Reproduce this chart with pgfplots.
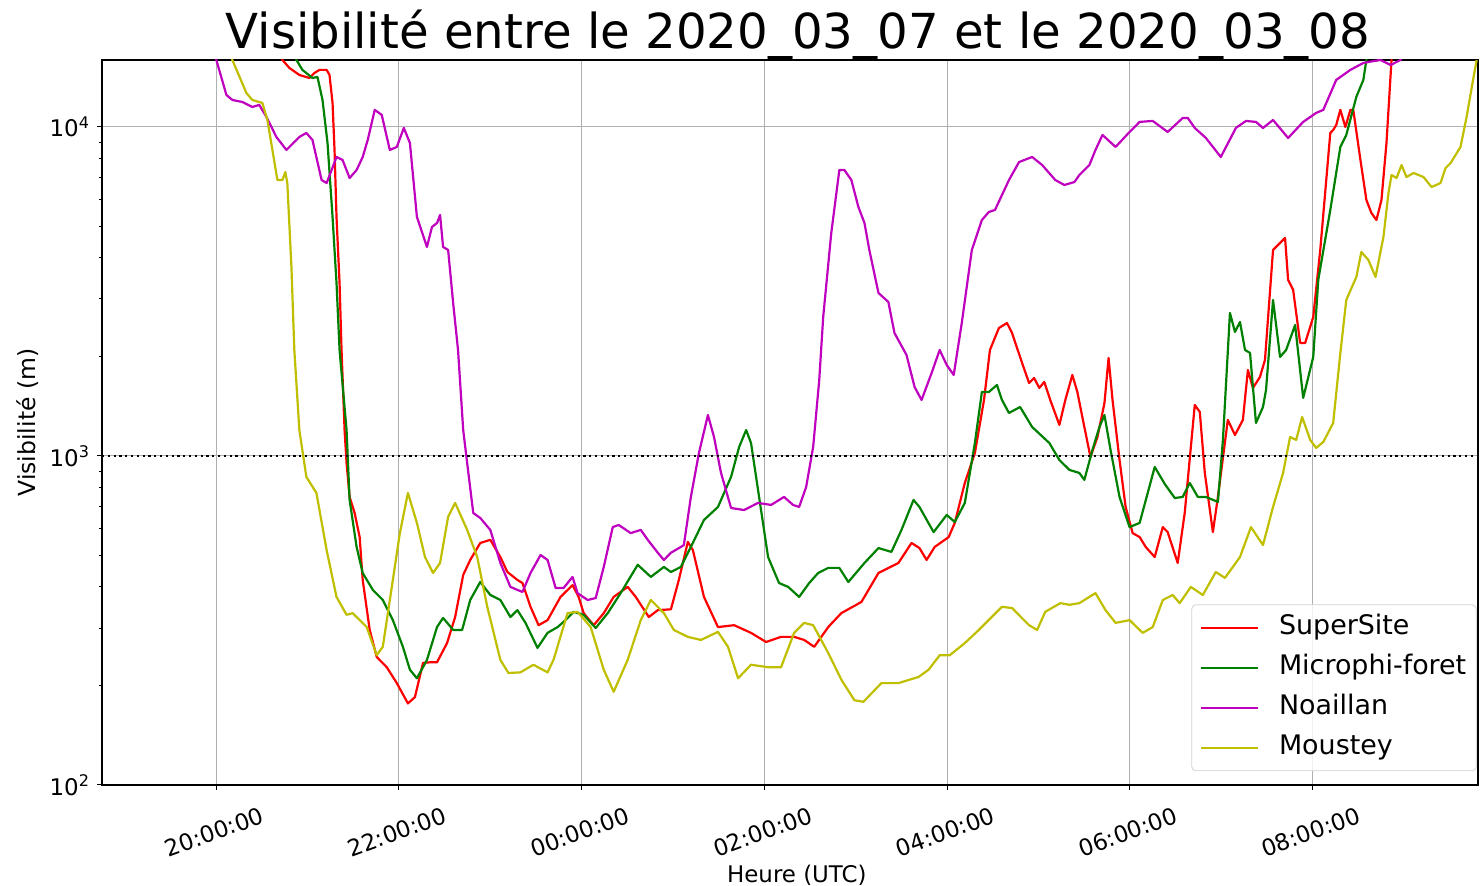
\documentclass[border=0pt]{standalone}
\usepackage{fontspec}
\setmainfont{DejaVu Sans}
\usepackage{pgfplots}
\pgfplotsset{compat=1.18}
\definecolor{mplred}{rgb}{1,0,0}
\definecolor{mplgreen}{rgb}{0,0.5,0}
\definecolor{mplmag}{rgb}{0.75,0,0.75}
\definecolor{mplyel}{rgb}{0.75,0.75,0}
\definecolor{gridgray}{HTML}{B0B0B0}
\begin{document}
\begin{tikzpicture}
\useasboundingbox (-51bp,-50.5bp) rectangle (689bp,392.5bp);
\begin{axis}[
  at={(0,0)}, anchor=south west,
  scale only axis, width=688bp, height=362.5bp,
  ymode=log, ymin=100, ymax=15980,
  xmin=-74.9, xmax=828.7,
  xtick={0,120,240,360,480,600,720},
  xticklabels={20:00:00,22:00:00,00:00:00,02:00:00,04:00:00,06:00:00,08:00:00},
  ytick={100,1000,10000},
  yticklabels={10\textsuperscript{2},10\textsuperscript{3},10\textsuperscript{4}},
  minor ytick={200,300,400,500,600,700,800,900,2000,3000,4000,5000,6000,7000,8000,9000},
  tick align=outside, tick pos=left,
  major tick length=2.5bp, minor tick length=1.5bp,
  every tick/.style={black, line width=0.5bp},
  grid=major, major grid style={gridgray, line width=0.5bp},
  axis line style={black, line width=0.6bp},
  ticklabel style={font=\fontsize{11.5}{13.5}\selectfont},
  xticklabel style={rotate=20, anchor=center, yshift=-19.5bp, xshift=-8bp},
  title={Visibilité entre le 2020\_03\_07 et le 2020\_03\_08},
  title style={font=\fontsize{24.2}{28}\selectfont, at={(axis description cs:0.5,1)}, anchor=base, yshift=0bp, xshift=4bp},
  xlabel={Heure (UTC)},
  xlabel style={font=\fontsize{11.5}{13.5}\selectfont, at={(axis description cs:0.505,-0.124)}, anchor=center},
  ylabel={Visibilité (m)},
  ylabel style={font=\fontsize{11.8}{13.5}\selectfont, at={(axis description cs:-0.0538,0.5)}, anchor=center},
  legend cell align=left,
  legend style={at={(axis description cs:0.999,0.019)}, anchor=south east,
    draw=gray!35, rounded corners=2bp, fill=white, fill opacity=0.8, text opacity=1,
    font=\fontsize{13.5}{16}\selectfont, inner xsep=4bp, inner ysep=4bp, row sep=5bp, column sep=9bp,
    nodes={inner sep=1bp, text height=10bp, text depth=3bp}},
  legend image code/.code={\draw[#1] (0bp,0bp) -- (28.5bp,0bp);},
  every axis plot/.append style={line width=1.1bp, line join=round},
]
\addplot[mplred] coordinates {(40.3,18400)(43.6,15980)(48.2,15110)(54.7,14390)(61.3,14090)(64.6,14590)(67.9,14910)(72.6,14910)(74.5,14390)(76.5,11830)(77.8,8514)(79.1,5326)(81.1,3357)(82.4,2100)(84.4,1199)(85.7,952)(87.7,751)(91.0,671)(94.3,567)(96.3,420)(100.9,296)(105.5,245)(112.1,228)(118.7,204)(126.0,177)(130.6,185)(135.9,235)(140.5,236)(145.1,236)(151.7,270)(157.0,324)(162.3,435)(166.9,483)(173.5,544)(180.1,556)(186.7,493)(191.3,444)(197.9,420)(201.2,411)(206.5,348)(211.8,306)(217.7,317)(226.2,373)(234.1,405)(238.1,373)(241.4,333)(248.0,306)(254.6,333)(261.1,373)(270.3,400)(275.6,373)(284.2,324)(290.1,340)(298.7,342)(303.9,420)(309.8,548)(313.1,518)(320.4,373)(329.6,302)(340.2,306)(351.3,290)(361.2,272)(371.0,282)(379.6,282)(386.2,276)(392.8,263)(402.0,302)(410.6,333)(423.8,360)(435.0,441)(448.1,473)(456.7,544)(461.9,525)(466.6,483)(471.9,529)(481.1,567)(485.1,626)(491.7,828)(498.3,1021)(504.3,1480)(508.2,2100)(514.1,2449)(519.4,2536)(522.7,2365)(529.3,1918)(533.9,1667)(537.2,1726)(540.6,1610)(543.9,1679)(547.8,1480)(553.8,1243)(557.7,1480)(562.3,1763)(565.6,1565)(570.2,1225)(574.2,993)(578.8,1142)(583.4,1449)(586.1,1986)(588.7,1480)(593.3,972)(597.3,700)(601.9,583)(606.5,567)(610.5,529)(616.4,493)(621.7,608)(624.9,587)(631.5,473)(636.1,671)(642.7,1429)(646.0,1361)(649.3,888)(654.6,587)(657.9,751)(664.4,1287)(669.1,1158)(674.3,1287)(677.6,1826)(680.9,1610)(685.5,1738)(688.8,1958)(694.1,4227)(696.1,4318)(702.0,4599)(704.0,3428)(707.3,3196)(711.9,2206)(715.2,2206)(720.5,2645)(725.1,4227)(731.7,9589)(733.6,9793)(735.6,10140)(738.3,11270)(741.6,10000)(744.9,11270)(746.8,11270)(751.5,7935)(755.4,5999)(758.7,5477)(762.0,5215)(765.3,5999)(768.6,8942)(771.9,15980)(773.2,18400)};
\addlegendentry{SuperSite}
\addplot[mplgreen] coordinates {(49.5,18400)(52.8,15980)(56.7,14910)(63.3,14090)(66.6,14190)(69.9,12080)(73.2,8942)(76.5,5326)(79.1,3357)(81.1,2100)(85.7,1199)(87.7,735)(92.3,529)(96.3,441)(102.9,392)(109.5,365)(116.1,317)(122.7,263)(127.3,224)(131.9,211)(138.5,240)(145.1,302)(149.1,322)(155.7,296)(161.6,296)(166.9,365)(173.5,414)(180.1,378)(186.7,365)(193.3,324)(197.9,340)(203.2,311)(211.1,261)(217.7,290)(224.3,302)(229.5,317)(234.8,336)(241.4,329)(249.3,300)(257.2,333)(265.7,383)(276.9,467)(285.5,429)(294.1,460)(298.7,444)(305.2,460)(311.8,529)(320.4,639)(329.6,700)(338.2,864)(343.5,1065)(348.1,1199)(351.3,1095)(356.6,751)(362.5,493)(369.7,411)(375.7,400)(382.9,373)(389.5,411)(395.4,441)(402.0,457)(409.3,457)(415.2,414)(425.8,473)(435.0,525)(443.5,511)(450.1,596)(458.0,735)(461.9,700)(471.2,587)(479.8,662)(485.1,630)(491.7,720)(498.3,1095)(502.9,1565)(507.5,1565)(512.8,1644)(516.1,1480)(520.7,1351)(528.0,1409)(535.9,1225)(547.2,1095)(553.8,972)(560.4,907)(566.9,888)(570.2,846)(575.5,1043)(580.1,1225)(583.4,1332)(587.4,1043)(593.3,751)(599.9,608)(606.5,626)(616.4,926)(623.0,822)(629.6,745)(634.8,751)(639.4,828)(644.7,751)(650.0,751)(657.9,725)(661.2,1119)(665.8,2721)(669.1,2382)(672.4,2554)(675.7,2100)(679.0,2056)(682.9,1260)(687.5,1409)(689.5,1587)(694.1,2980)(698.7,2000)(702.7,2100)(708.6,2501)(713.9,1501)(720.5,2000)(723.8,3428)(731.7,5594)(738.3,8694)(742.2,9456)(748.8,12340)(753.4,13900)(755.4,15980)(757.4,18400)};
\addlegendentry{Microphi-foret}
\addplot[mplmag] coordinates {(-4.4,18400)(0.2,15980)(6.8,12510)(10.7,12080)(17.3,11910)(23.8,11500)(28.4,11670)(33.1,10720)(39.6,9324)(46.2,8514)(54.7,9324)(59.3,9589)(63.3,9131)(69.3,6899)(72.6,6756)(75.9,7399)(79.1,8105)(83.1,7935)(87.7,6996)(92.3,7399)(96.3,8105)(99.6,9131)(104.2,11270)(108.8,10880)(114.1,8514)(118.7,8694)(123.3,9931)(127.3,8942)(131.9,5326)(138.5,4318)(141.8,4966)(145.1,5107)(147.1,5401)(149.1,4318)(152.4,4227)(155.7,2917)(158.9,2100)(162.3,1199)(164.9,952)(168.9,671)(173.5,648)(180.1,596)(186.7,473)(193.3,400)(201.2,386)(206.5,441)(213.1,500)(217.7,483)(223.0,397)(228.2,397)(234.1,429)(237.4,383)(244.0,365)(249.3,370)(254.6,460)(260.5,608)(264.4,617)(272.3,583)(278.9,596)(283.5,556)(290.1,508)(294.1,483)(298.7,508)(305.2,529)(307.2,536)(311.8,751)(317.1,1021)(323.0,1332)(327.0,1142)(331.6,888)(338.2,695)(346.7,685)(355.9,720)(364.5,710)(373.0,751)(378.9,710)(382.9,700)(387.5,805)(392.1,1065)(396.1,1702)(398.7,2645)(404.0,4762)(409.3,7399)(412.6,7399)(417.2,6899)(421.8,5713)(425.8,5107)(429.0,4227)(435.0,3129)(441.5,2938)(445.5,2365)(453.4,2028)(458.7,1621)(463.3,1480)(469.9,1788)(475.2,2100)(479.8,1891)(484.4,1763)(489.7,2536)(496.3,4227)(502.9,5215)(507.5,5516)(511.5,5594)(520.7,6899)(527.3,7824)(535.9,8105)(542.5,7662)(551.1,6899)(557.1,6662)(563.7,6803)(566.9,7144)(573.5,7662)(577.5,8514)(582.1,9456)(590.7,8694)(599.9,9656)(606.5,10360)(615.1,10430)(624.9,9656)(634.8,10650)(638.1,10650)(642.7,9931)(650.0,9260)(659.8,8105)(669.7,9931)(676.3,10430)(682.9,10360)(687.5,9931)(694.1,10500)(704.0,9260)(713.9,10360)(722.4,11030)(727.1,11270)(735.6,13900)(744.9,14910)(753.4,15650)(758.1,15800)(764.7,15980)(771.3,15430)(777.8,15980)(783.0,17750)};
\addlegendentry{Noaillan}
\addplot[mplyel] coordinates {(7.4,18400)(10.7,15980)(19.9,12690)(23.8,12080)(30.4,11830)(33.7,10500)(37.0,8514)(40.3,6899)(43.6,6899)(45.5,7296)(46.8,6756)(49.5,3753)(51.4,2100)(54.7,1199)(59.3,864)(65.9,772)(72.6,518)(79.1,373)(85.7,329)(89.7,333)(98.9,302)(105.5,248)(109.5,263)(116.1,420)(120.7,583)(126.0,772)(131.9,626)(137.2,493)(142.5,441)(147.1,473)(152.4,653)(157.0,720)(164.9,596)(171.5,493)(178.1,348)(186.7,240)(192.0,219)(199.9,220)(208.4,232)(217.7,220)(221.6,240)(230.8,333)(237.4,336)(246.0,302)(254.6,224)(261.1,192)(270.3,240)(278.9,317)(285.5,365)(294.1,333)(300.6,296)(309.8,282)(318.4,276)(329.6,292)(336.2,263)(342.8,211)(351.3,232)(362.5,228)(371.0,228)(379.6,290)(386.2,311)(392.1,306)(402.0,252)(410.6,209)(419.2,181)(425.1,179)(436.9,204)(448.1,204)(461.3,213)(467.9,224)(475.2,248)(481.8,248)(491.7,270)(500.9,296)(516.1,348)(522.7,345)(533.9,306)(539.2,296)(544.5,336)(554.4,357)(560.4,353)(566.9,357)(577.5,383)(584.1,340)(590.7,311)(599.9,317)(608.5,290)(615.1,302)(621.7,365)(628.2,378)(632.8,357)(640.1,400)(648.0,378)(656.5,444)(662.5,426)(672.4,493)(679.6,608)(687.5,536)(694.1,700)(700.7,888)(705.3,1142)(709.3,1119)(713.2,1314)(718.5,1119)(722.4,1058)(727.1,1103)(733.6,1260)(738.3,2056)(742.2,2980)(748.8,3501)(752.1,4169)(756.7,3942)(761.4,3501)(766.6,4632)(769.9,6301)(771.9,7144)(775.2,6996)(778.5,7662)(781.7,7045)(786.4,7245)(792.9,7045)(798.2,6569)(804.1,6756)(807.4,7503)(810.7,7770)(817.2,8694)(821.2,10720)(825.8,14190)(827.8,15980)};
\addlegendentry{Moustey}
\addplot[black, line width=1.1bp, dash pattern=on 1.1bp off 1.8bp, forget plot] coordinates {(-74.9,1000)(828.7,1000)};
\end{axis}
\end{tikzpicture}
\end{document}
